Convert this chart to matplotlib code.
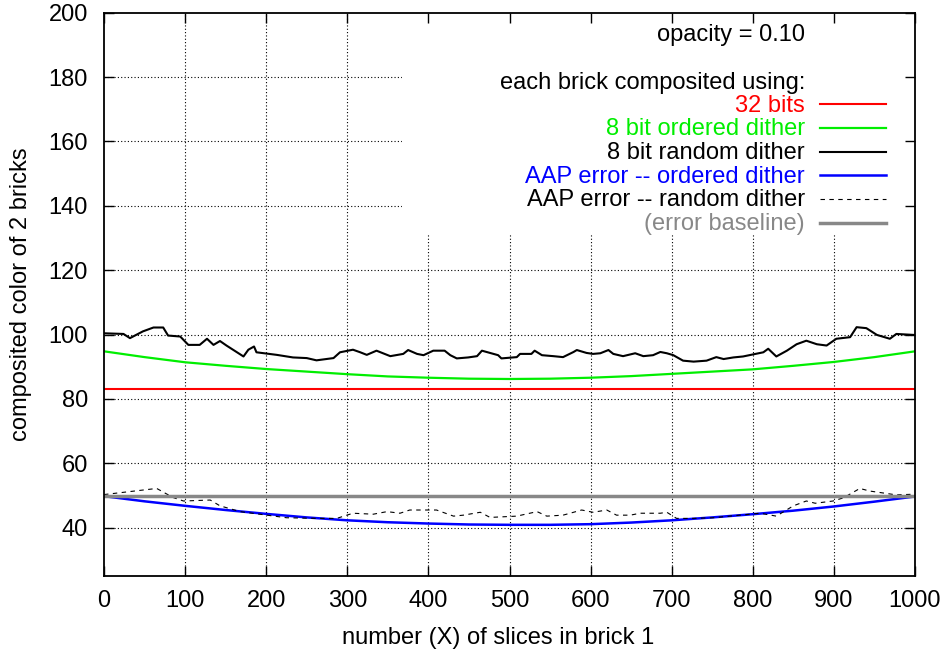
import numpy as np
import matplotlib
matplotlib.use('Agg')
import matplotlib.pyplot as plt
from matplotlib.patches import Rectangle

plt.rcParams['font.family'] = ['Liberation Sans', 'DejaVu Sans']

# ---- data ----
x_smooth = [0, 50, 100, 150, 200, 250, 300, 350, 400, 450, 500,
            550, 600, 650, 700, 750, 800, 850, 900, 950, 1000]
bits32 = [83.0] * len(x_smooth)
ordered = [94.8, 93.0, 91.4, 90.3, 89.3, 88.5, 87.7, 87.0, 86.6, 86.3, 86.2,
           86.3, 86.6, 87.1, 87.8, 88.5, 89.2, 90.3, 91.5, 93.0, 94.8]
aap_ordered = [49.8, 48.2, 46.8, 45.5, 44.3, 43.2, 42.3, 41.7, 41.3, 41.0, 40.9,
               40.9, 41.1, 41.6, 42.3, 43.2, 44.2, 45.3, 46.6, 48.1, 49.7]
baseline = [50.0] * len(x_smooth)

x_random = [0, 24, 32, 48, 61, 73, 79, 94, 104, 118, 127, 135, 143, 151, 164,
            172, 178, 185, 188, 213, 233, 250, 262, 283, 291, 307, 316, 324,
            336, 349, 353, 369, 375, 386, 394, 406, 420, 427, 435, 449, 460,
            466, 476, 486, 490, 509, 513, 527, 531, 540, 554, 566, 579, 583,
            595, 603, 612, 622, 628, 640, 655, 665, 677, 686, 694, 702, 714,
            727, 743, 755, 764, 776, 788, 813, 819, 829, 842, 854, 866, 879,
            891, 903, 920, 928, 940, 953, 969, 977, 998, 1000]
random = [100.4, 100.2, 98.9, 101.0, 102.2, 102.2, 99.7, 99.4, 96.8, 96.8,
          98.7, 96.8, 98.0, 96.6, 94.5, 93.2, 95.3, 96.3, 94.5, 93.7, 92.9,
          92.7, 92.0, 92.7, 94.5, 95.3, 94.5, 93.7, 95.0, 93.7, 93.3, 94.0,
          95.2, 94.0, 93.6, 95.0, 95.0, 93.6, 92.6, 92.9, 93.3, 95.0, 94.3,
          93.6, 92.6, 93.0, 94.0, 94.0, 95.0, 93.6, 93.3, 93.0, 94.6, 95.2,
          94.3, 94.0, 94.2, 95.2, 94.0, 93.3, 94.2, 93.3, 93.6, 94.6, 94.2,
          93.6, 91.9, 91.6, 91.9, 93.0, 92.4, 92.9, 93.2, 94.5, 95.6, 93.2,
          95.0, 97.0, 98.1, 97.0, 96.6, 98.7, 99.2, 102.3, 102.0, 99.9, 98.7,
          100.2, 99.9, 99.9]

x_aap_random = [0, 7, 65, 85, 98, 131, 143, 168, 192, 225, 262, 287, 307, 332,
                349, 365, 377, 410, 431, 443, 464, 476, 509, 534, 546, 566,
                579, 589, 603, 620, 632, 649, 661, 686, 694, 706, 727, 751,
                784, 809, 829, 850, 866, 877, 899, 912, 932, 944, 977, 998, 1000]
aap_random = [50.3, 50.5, 52.2, 49.4, 48.3, 48.6, 46.8, 45.0, 44.2, 43.1, 42.9,
              42.9, 44.5, 44.2, 45.0, 44.5, 45.5, 45.5, 43.6, 43.9, 44.8, 43.2,
              43.6, 45.0, 43.6, 43.9, 44.8, 45.5, 44.8, 45.5, 43.9, 43.9, 44.5,
              44.5, 44.8, 42.9, 42.9, 43.1, 43.9, 44.5, 43.6, 46.8, 48.3, 47.6,
              48.3, 49.3, 52.2, 51.4, 50.2, 50.4, 50.3]

xticks = [0, 100, 200, 300, 400, 500, 600, 700, 800, 900, 1000]
yticks = [40, 60, 80, 100, 120, 140, 160, 180, 200]

labels = ['32 bits', '8 bit ordered dither', '8 bit random dither',
          'AAP error -- ordered dither', 'AAP error -- random dither',
          '(error baseline)']

FS = 17

fig = plt.figure(figsize=(9.45, 6.51), dpi=100)
ax = fig.add_axes([104 / 945, 75 / 651, 811 / 945, 563.3 / 651])
ax.set_xlim(0, 1000)
ax.set_ylim(25, 200)

# dotted grid, hidden behind the key box
for v in xticks[1:-1]:
    ax.axvline(v, color='k', lw=0.8, ls=(0, (1, 2)), zorder=0.8)
for v in yticks[:-1]:
    ax.axhline(v, color='k', lw=0.8, ls=(0, (1, 2)), zorder=0.8)
ax.add_patch(Rectangle((0.3675, 0.6054), 1 - 0.3675, 1 - 0.6054,
                       transform=ax.transAxes, facecolor='white',
                       edgecolor='none', zorder=1))

styles = [
    dict(color='#ff0000', lw=1.5),
    dict(color='#00ee00', lw=1.6),
    dict(color='#000000', lw=1.5),
    dict(color='#0000ff', lw=1.8),
    dict(color='#000000', lw=0.8, ls=(0, (4, 4))),
    dict(color='#888888', lw=2.5),
]
series = [(x_smooth, bits32), (x_smooth, ordered), (x_random, random),
          (x_smooth, aap_ordered), (x_aap_random, aap_random),
          (x_smooth, baseline)]
for (xs, ys), st in zip(series, styles):
    ax.plot(xs, ys, zorder=2, **st)

# gnuplot-like key: right-aligned text, sample on the right
def row_y(py):
    return (576 - py) / 563.3

ax.text(0.8644, row_y(40.5), 'opacity = 0.10', transform=ax.transAxes,
        ha='right', va='baseline', fontsize=FS, zorder=3)
ax.text(0.8644, row_y(89.0), 'each brick composited using:',
        transform=ax.transAxes, ha='right', va='baseline', fontsize=FS,
        zorder=3)
text_colors = ['#ff0000', '#00ee00', '#000000', '#0000ff', '#000000', '#888888']
rows = [111.5, 135.2, 159.2, 182.6, 206.4, 230.0]
for lab, st, tc, py in zip(labels, styles, text_colors, rows):
    ax.text(0.8644, row_y(py), lab, transform=ax.transAxes, ha='right',
            va='baseline', fontsize=FS, color=tc, zorder=3)
    ax.plot([0.883, 0.964], [row_y(py - 7.5)] * 2, transform=ax.transAxes,
            zorder=3, **st)

ax.set_xticks(xticks)
ax.set_yticks(yticks)
ax.tick_params(direction='in', length=7, width=1, labelsize=FS,
               top=True, right=True)
ax.tick_params(axis='x', pad=10)
ax.tick_params(axis='y', pad=11.5)
for s in ax.spines.values():
    s.set_linewidth(1.3)
    s.set_zorder(4)

ax.set_xlabel('number (X) of slices in brick 1', fontsize=FS)
ax.set_ylabel('composited color of 2 bricks', fontsize=FS)
ax.xaxis.set_label_coords(0.486, -0.1207)
ax.xaxis.label.set_verticalalignment('baseline')
ax.yaxis.set_label_coords(-0.102, 0.5)
ax.yaxis.label.set_verticalalignment('center')

fig.savefig('out.png', dpi=100)
